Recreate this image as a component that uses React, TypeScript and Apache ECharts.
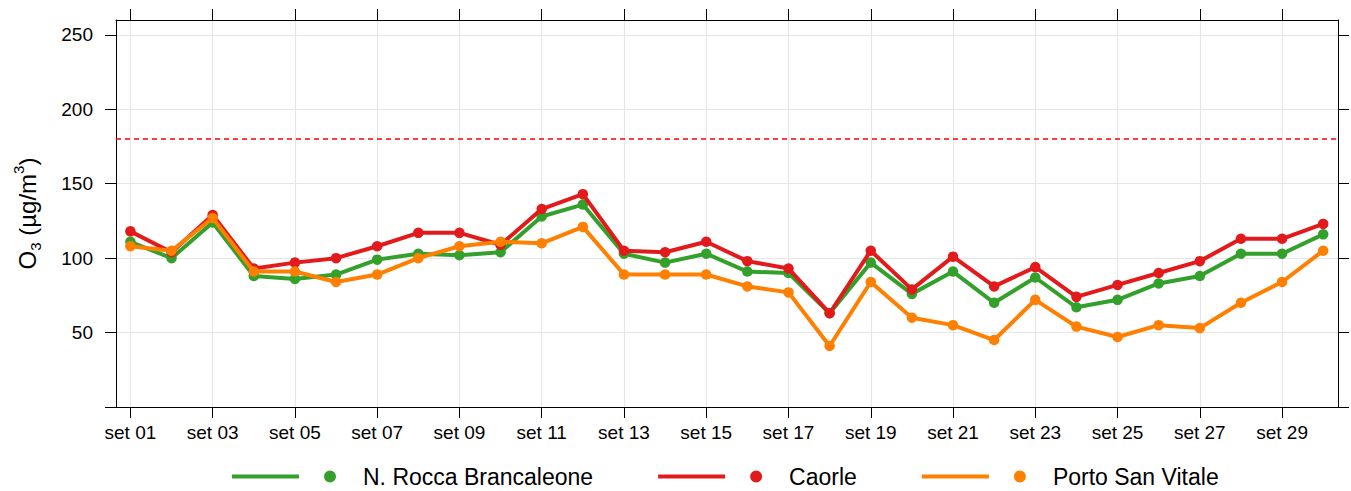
import React, { useEffect, useRef } from 'react';
import * as echarts from 'echarts';

const days = [1, 2, 3, 4, 5, 6, 7, 8, 9, 10, 11, 12, 13, 14, 15, 16, 17, 18, 19, 20, 21, 22, 23, 24, 25, 26, 27, 28, 29, 30];
const rocca = [111, 100, 124, 88, 86, 89, 99, 103, 102, 104, 128, 136, 103, 97, 103, 91, 90, 63, 97, 76, 91, 70, 87, 67, 72, 83, 88, 103, 103, 116];
const caorle = [118, 104, 129, 93, 97, 100, 108, 117, 117, 109, 133, 143, 105, 104, 111, 98, 93, 63, 105, 79, 101, 81, 94, 74, 82, 90, 98, 113, 113, 123];
const portoSanVitale = [108, 105, 127, 91, 91, 84, 89, 100, 108, 111, 110, 121, 89, 89, 89, 81, 77, 41, 84, 60, 55, 45, 72, 54, 47, 55, 53, 70, 84, 105];
const seriesNames = ['N. Rocca Brancaleone', 'Caorle', 'Porto San Vitale'];
const seriesColors = ['#33a02c', '#e31a1c', '#ff7f00'];
const xTickDays = [1, 3, 5, 7, 9, 11, 13, 15, 17, 19, 21, 23, 25, 27, 29];
const xTickLabels = ['set 01', 'set 03', 'set 05', 'set 07', 'set 09', 'set 11', 'set 13', 'set 15', 'set 17', 'set 19', 'set 21', 'set 23', 'set 25', 'set 27', 'set 29'];
const yTicks = [0, 50, 100, 150, 200, 250];
const yTickLabels = ['', '50', '100', '150', '200', '250'];
const threshold = 180;

const FONT = '"Liberation Sans", Arial, Helvetica, sans-serif';

export default function App() {
  const ref = useRef<HTMLDivElement>(null);
  useEffect(() => {
    document.body.style.margin = '0';
    const chart = echarts.init(ref.current!, null, { renderer: 'svg' });
    const allValues = [rocca, caorle, portoSanVitale];
    const xCommon = {
      type: 'value',
      min: 0.65,
      max: 30.36,
      axisLine: { show: true, onZero: false, lineStyle: { color: '#000', width: 1 } },
      axisTick: { show: true, inside: false, length: 11, customValues: xTickDays, lineStyle: { color: '#000', width: 1 } },
    };
    const yCommon = {
      type: 'value',
      min: 0,
      max: 260,
      axisLine: { show: true, onZero: false, lineStyle: { color: '#000', width: 1 } },
      axisTick: { show: true, inside: false, length: 11, customValues: yTicks, lineStyle: { color: '#000', width: 1 } },
    };
    chart.setOption({
      animation: false,
      backgroundColor: '#fff',
      textStyle: { fontFamily: FONT },
      grid: { left: 116, right: 13, top: 20, bottom: 84, containLabel: false },
      xAxis: [
        {
          ...xCommon,
          position: 'bottom',
          axisLabel: {
            show: true,
            customValues: xTickDays,
            margin: 16,
            color: '#000',
            fontSize: 19,
            fontFamily: FONT,
            formatter: (v: number) => xTickLabels[xTickDays.indexOf(v)] ?? '',
          },
          splitLine: { show: true, lineStyle: { color: '#e6e6e6', width: 1.2 } },
        },
        {
          ...xCommon,
          position: 'top',
          axisLabel: { show: false },
          splitLine: { show: false },
        },
      ],
      yAxis: [
        {
          ...yCommon,
          position: 'left',
          name: '{a|O}{b|3}{a| (µg/m}{c|3}{a|)}',
          nameLocation: 'middle',
          nameRotate: 90,
          nameGap: 73,
          nameTextStyle: {
            color: '#000',
            fontFamily: FONT,
            rich: {
              a: { fontSize: 24, lineHeight: 32, verticalAlign: 'middle', color: '#000', fontFamily: FONT },
              b: { fontSize: 15, lineHeight: 15, verticalAlign: 'bottom', color: '#000', fontFamily: FONT },
              c: { fontSize: 15, lineHeight: 15, verticalAlign: 'top', color: '#000', fontFamily: FONT },
            },
          },
          axisLabel: {
            show: true,
            customValues: yTicks,
            margin: 23,
            color: '#000',
            fontSize: 19,
            fontFamily: FONT,
            formatter: (v: number) => yTickLabels[yTicks.indexOf(v)] ?? '',
          },
          splitLine: { show: true, lineStyle: { color: '#e6e6e6', width: 1.2 } },
        },
        {
          ...yCommon,
          position: 'right',
          axisLabel: { show: false },
          splitLine: { show: false },
        },
      ],
      legend: {
        show: true,
        left: 232,
        top: 465,
        padding: 0,
        itemGap: 65,
        itemWidth: 104,
        itemHeight: 12,
        icon: 'path://M0 4 L67 4 L67 8 L0 8 Z M92 6 A6 6 0 1 1 104 6 A6 6 0 1 1 92 6 Z',
        itemStyle: { borderWidth: 0 },
        textStyle: { color: '#000', fontSize: 23, fontFamily: FONT, padding: [0, 0, 0, 22] },
        data: seriesNames,
      },
      series: seriesNames.map((name, si) => ({
        name,
        type: 'line',
        xAxisIndex: 0,
        yAxisIndex: 0,
        data: days.map((d, i) => [d, allValues[si][i]]),
        symbol: 'circle',
        symbolSize: 10.5,
        showSymbol: true,
        lineStyle: { color: seriesColors[si], width: 4 },
        itemStyle: { color: seriesColors[si], borderWidth: 0 },
        z: 3 + si,
        emphasis: { disabled: true },
        markLine:
          si === 0
            ? {
                silent: true,
                symbol: ['none', 'none'],
                label: { show: false },
                lineStyle: { color: '#ff0000', type: [5, 4], width: 1.5 },
                data: [{ yAxis: threshold }],
              }
            : undefined,
      })),
    });
    return () => chart.dispose();
  }, []);
  return <div ref={ref} style={{ position: 'fixed', left: 0, top: 0, width: 1351, height: 491 }} />;
}
